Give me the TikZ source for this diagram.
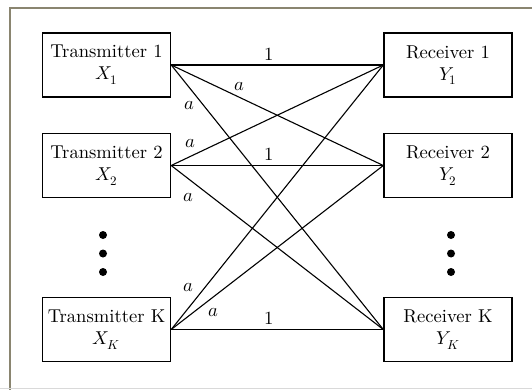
\documentclass[tikz,border=0pt]{standalone}
\usepackage{fontspec}
\usepackage{unicode-math}
\setmainfont{lmroman10-regular.otf}
\setmathfont{Latin Modern Math}
\usetikzlibrary{positioning}
\definecolor{framecol}{HTML}{8A8570}
\begin{document}
\begin{tikzpicture}[x=1pt,y=-1pt,
  unitbox/.style={draw=black, line width=1.4pt, minimum width=128pt, minimum height=64pt,
    inner sep=0pt, align=center, font=\fontsize{18.6}{22}\selectfont},
  link/.style={draw=black, line width=1.1pt},
  gain/.style={font=\fontsize{18.6}{22}\selectfont, inner sep=0pt},
  vdot/.style={circle, fill=black, inner sep=0pt, minimum size=8pt}]
  \useasboundingbox (0,0) rectangle (532,390);
  \clip (0,0) rectangle (532,390);
  % outer frame (runs past the right and lower edges)
  \draw[framecol, line width=2pt] (10,8.5) rectangle (545,400);
  \draw[black!15, line width=1pt] (0,388) -- (532,388);

  % transmitters
  \node[unitbox] (t1) at (106.5,65) {Transmitter 1\\$X_1$};
  \node[unitbox] (t2) at (106.5,165.5) {Transmitter 2\\$X_2$};
  \node[unitbox] (tk) at (106.5,329.5) {Transmitter K\\$X_K$};
  % receivers
  \node[unitbox] (r1) at (448,65) {Receiver 1\\$Y_1$};
  \node[unitbox] (r2) at (448,165.5) {Receiver 2\\$Y_2$};
  \node[unitbox] (rk) at (448,329.5) {Receiver K\\$Y_K$};

  % direct links
  \draw[link] (t1.east) -- (r1.west);
  \draw[link] (t2.east) -- (r2.west);
  \draw[link] (tk.east) -- (rk.west);
  % cross links
  \draw[link] (t1.east) -- (r2.west);
  \draw[link] (t1.east) -- (rk.west);
  \draw[link] (t2.east) -- (r1.west);
  \draw[link] (t2.east) -- (rk.west);
  \draw[link] (tk.east) -- (r1.west);
  \draw[link] (tk.east) -- (r2.west);

  % gains
  \node[gain] (g11) at (269,54) {$1$};
  \node[gain] (g22) at (269,154) {$1$};
  \node[gain] (gkk) at (269,318) {$1$};
  \node[gain] (g12) at (239,86) {$a$};
  \node[gain] (g1k) at (189,105) {$a$};
  \node[gain] (g21) at (190,143) {$a$};
  \node[gain] (g2k) at (188,197) {$a$};
  \node[gain] (gk1) at (188,287) {$a$};
  \node[gain] (gk2) at (213,312) {$a$};

  % vertical ellipses
  \node[vdot] (ld1) at (103,235) {};
  \node[vdot] (ld2) at (103,253.5) {};
  \node[vdot] (ld3) at (103,272) {};
  \node[vdot] (rd1) at (451,235) {};
  \node[vdot] (rd2) at (451,253.5) {};
  \node[vdot] (rd3) at (451,272) {};
\end{tikzpicture}
\end{document}
